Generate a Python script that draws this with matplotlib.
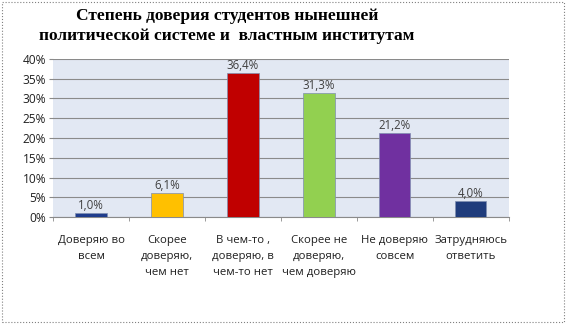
import matplotlib.pyplot as plt
from matplotlib.patches import Rectangle
from matplotlib.ticker import MultipleLocator, FuncFormatter

# survey answers and shares of students, %
categories = [
    "Доверяю во\nвсем",
    "Скорее\nдоверяю,\nчем нет",
    "В чем-то ,\nдоверяю, в\nчем-то нет",
    "Скорее не\nдоверяю,\nчем доверяю",
    "Не доверяю\nсовсем",
    "Затрудняюсь\nответить",
]
shares = [1.0, 6.1, 36.4, 31.3, 21.2, 4.0]
colors = ["#1f3c8c", "#ffc000", "#c00000", "#92d050", "#7030a0", "#1f3c7c"]

fig = plt.figure(figsize=(5.67, 3.24), dpi=100)
ax = fig.add_axes([0.0935, 0.330, 0.804, 0.488])

x = range(len(shares))
ax.bar(x, shares, width=0.41, color=colors, edgecolor="#7f8fb0", linewidth=0.5, zorder=3)

for i, v in enumerate(shares):
    ax.text(i, v + 0.3, f"{v:.1f}%".replace(".", ","), ha="center", va="bottom",
            fontsize=8.3, color="#404040", family="Open Sans", zorder=4)

ax.set_facecolor("#e2e8f3")
ax.set_ylim(0, 40)
ax.set_xlim(-0.5, len(shares) - 0.5)
ax.yaxis.set_major_locator(MultipleLocator(5))
ax.yaxis.set_major_formatter(FuncFormatter(lambda v, p: f"{v:.0f}%"))
ax.grid(axis="y", color="#8a8a8a", linewidth=0.8, zorder=1)

# category labels centred, ticks on the boundaries
ax.set_xticks(list(x))
ax.set_xticklabels(categories, fontsize=8.2, family="Open Sans", color="#202020", linespacing=1.6)
ax.tick_params(axis="x", length=0, pad=13)
ax.set_xticks([i - 0.5 for i in range(len(shares) + 1)], minor=True)
ax.tick_params(axis="x", which="minor", length=3, color="#8a8a8a")
ax.tick_params(axis="y", labelsize=8.6, length=3, color="#8a8a8a", labelcolor="#202020", pad=2)
for lbl in ax.get_yticklabels():
    lbl.set_family("Open Sans")

for side in ["top", "right", "left"]:
    ax.spines[side].set_visible(False)
ax.spines["bottom"].set_color("#8a8a8a")

fig.text(0.40, 0.975, "Степень доверия студентов нынешней\nполитической системе и  властным институтам",
         ha="center", va="top", fontsize=12.5, fontweight="bold", family="Liberation Serif",
         linespacing=1.3)

# dotted frame around the whole chart
fig.patches.append(Rectangle((0.003, 0.005), 0.992, 0.99, transform=fig.transFigure,
                             fill=False, edgecolor="#808080", linestyle=":", linewidth=0.8))

fig.savefig("out.png", dpi=100)
